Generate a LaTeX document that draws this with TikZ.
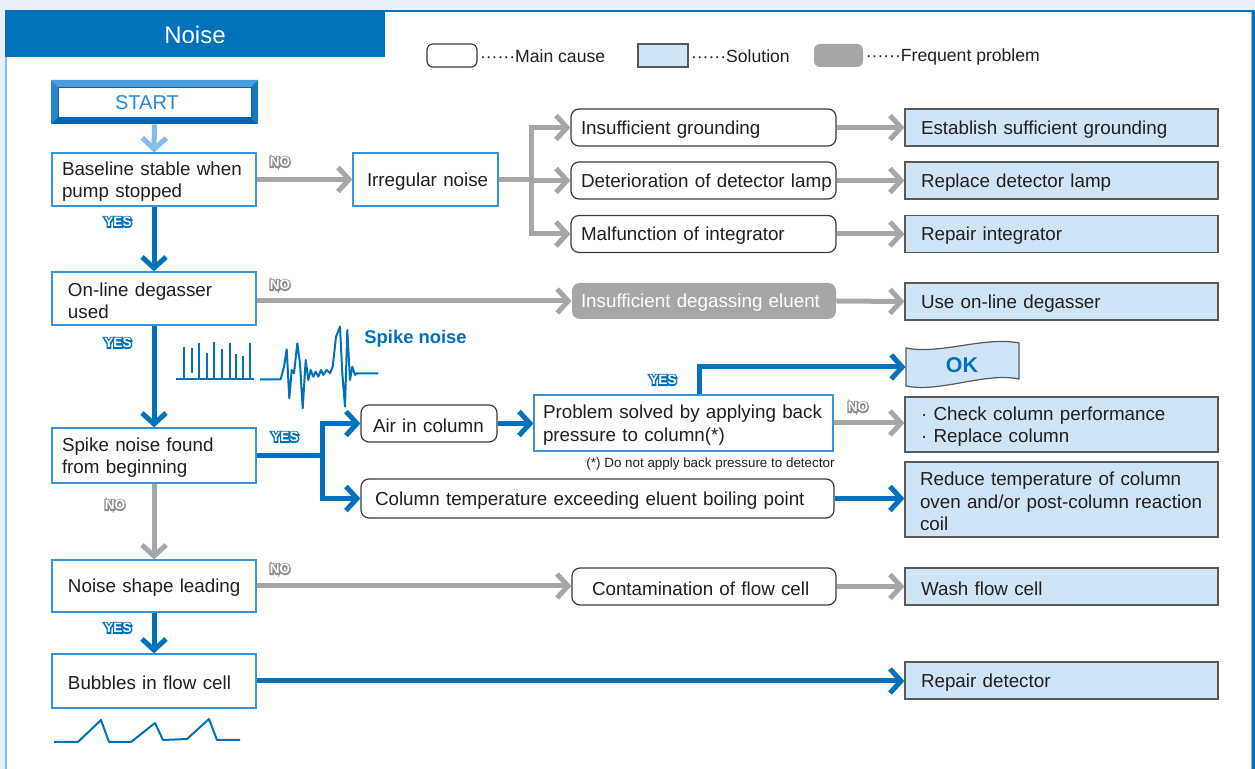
\documentclass[tikz,border=0pt]{standalone}
\usepackage{fontspec}
\setmainfont{Liberation Sans}
\newfontfamily\bdgO{Liberation Sans}[BoldFeatures={FakeBold=20}]
\usetikzlibrary{arrows.meta,calc}
\definecolor{blu}{HTML}{0072BC}
\definecolor{qbd}{HTML}{3A92D8}
\definecolor{cbd}{HTML}{3B3B3B}
\definecolor{sbd}{HTML}{595959}
\definecolor{solf}{HTML}{CFE4F4}
\definecolor{gry}{HTML}{A6A6A6}
\definecolor{gryd}{HTML}{8E8E8E}
\definecolor{bgc}{HTML}{E7F0F9}
\definecolor{txt}{HTML}{231F20}
\definecolor{lbl}{HTML}{86BDE8}
\definecolor{stc}{HTML}{2A88D8}
\definecolor{bvA}{HTML}{4A9CDB}
\definecolor{bvB}{HTML}{2A86CC}
\definecolor{bvC}{HTML}{0064B0}
\definecolor{bvD}{HTML}{1878C2}
\newcommand\T[1]{\raisebox{-1pt}[\height][\depth]{#1}}
\newcommand\bdgtxt[2]{\leavevmode\rlap{\bdgO\bfseries\textcolor{#1}{#2}}\textcolor{white}{#2}}
\begin{document}
\begin{tikzpicture}[x=0.5pt,y=-0.5pt,
 >={Straight Barb[length=5.5pt,width=12pt,sharp]},
 base/.style={font=\fontsize{9.4}{11.2}\selectfont, text=txt, inner ysep=1pt},
 qbox/.style={base, draw=qbd, line width=0.6pt, fill=white, align=left},
 cbox/.style={base, draw=cbd, line width=0.6pt, rounded corners=4pt, fill=white, align=left},
 sbox/.style={base, draw=sbd, line width=0.6pt, fill=solf, align=left},
 fbox/.style={base, fill=gry, rounded corners=4pt, text=white, align=left},
 bln/.style={draw=blu, line width=2.5pt},
 gln/.style={draw=gry, line width=2.5pt},
 lln/.style={draw=lbl, line width=2.5pt},
 bdg/.style={font=\bfseries\fontsize{6.8}{7}\selectfont, inner sep=0pt},
 wave/.style={draw=blu, line width=1pt, line join=round},
 dim/.code n args={3}{\pgfmathsetmacro\tw{#1-2*#3}\edef\tmp{\noexpand\tikzset{minimum width=#1pt,minimum height=#2pt,inner xsep=#3pt,text width=\tw pt}}\tmp}]
\useasboundingbox (0,0) rectangle (1255,769);
% frame
\fill[bgc] (0,0) rectangle (1255,769);
\fill[white] (6,11) rectangle (1252,769);
\fill[lbl] (5,11) rectangle (7,769);
\fill[lbl] (1250.5,11) rectangle (1252,769);
\fill[blu] (1252,10) rectangle (1255,769);
\fill[blu] (5,10) rectangle (1255,12.5);
\fill[blu] (5,10) rectangle (385,57);
\node[font=\fontsize{12}{14}\selectfont, text=white] (title) at (195,35) {Noise};
% legend
\node[cbox, minimum width=25pt, minimum height=11.5pt, rounded corners=3pt, inner sep=0pt] (lg1) at (452,55.5) {};
\node[base, anchor=west, inner xsep=0pt, font=\fontsize{8.8}{10}\selectfont] (lt1) at ([xshift=1pt,yshift=-0.5pt]lg1.east) {······Main cause};
\node[sbox, minimum width=25pt, minimum height=11.5pt, inner sep=0pt] (lg2) at (663,55.5) {};
\node[base, anchor=west, inner xsep=0pt, font=\fontsize{8.8}{10}\selectfont] (lt2) at ([xshift=1pt,yshift=-0.5pt]lg2.east) {······Solution};
\node[fbox, minimum width=24.5pt, minimum height=11.5pt, rounded corners=3pt, inner sep=0pt] (lg3) at (838.5,55.5) {};
\node[base, anchor=west, inner xsep=0pt, font=\fontsize{8.8}{10}\selectfont] (lt3) at ([xshift=1pt,yshift=-0.5pt]lg3.east) {······Frequent problem};
% START bevel
\fill[bvA] (51,80) -- (258,80) -- (251,87) -- (58,87) -- cycle;
\fill[bvB] (51,80) -- (58,87) -- (58,117) -- (51,124) -- cycle;
\fill[bvC] (51,124) -- (258,124) -- (251,117) -- (58,117) -- cycle;
\fill[bvD] (258,80) -- (258,124) -- (251,117) -- (251,87) -- cycle;
\draw[fill=white, draw=bvC, line width=0.4pt] (58,87) rectangle (251,117);
\node[minimum width=103.5pt, minimum height=22pt, inner sep=0pt] (start) at (154.5,102) {};
\node[base, font=\fontsize{10}{11}\selectfont, text=stc, inner sep=0pt] (startt) at (147,103) {START};
% decision boxes
\node[qbox,dim={102}{26.5}{5}] (bsl) at (154,179.5) {\T{Baseline stable when}\\\T{pump stopped}};
\node[qbox,dim={72.5}{26.5}{7}] (irr) at (425.5,179.5) {\T{Irregular noise}};
\node[qbox,dim={102}{26.5}{8}] (deg) at (154,298.5) {\T{On-line degasser}\\\T{used}};
\node[qbox,dim={102}{27.5}{5}] (spk) at (154,455.5) {\T{Spike noise found}\\\T{from beginning}};
\node[qbox,dim={149.5}{28}{4.5}] (sv) at (683.5,423) {\T{Problem solved by applying back}\\\T{pressure to column(*)}};
\node[qbox,dim={102}{26}{8}] (lead) at (154,586) {\T{Noise shape leading}};
\node[qbox,dim={102}{27}{8}] (bub) at (154,681) {\T{Bubbles in flow cell}};
% causes
\node[cbox,dim={132.5}{18.5}{5}] (c1) at (703.5,127.5) {\T{Insufficient grounding}};
\node[cbox,dim={132.5}{18.5}{5}] (c2) at (703.5,180.5) {\T{Deterioration of detector lamp}};
\node[cbox,dim={132.5}{18.5}{5}] (c3) at (703.5,234) {\T{Malfunction of integrator}};
\node[fbox,dim={132}{18}{4.5}] (fq) at (704,301) {\T{Insufficient degassing eluent}};
\node[cbox,dim={68}{18.5}{6}] (air) at (429,423.5) {\T{Air in column}};
\node[cbox,dim={236.5}{19.5}{7}] (ct) at (597.5,498.5) {\T{Column temperature exceeding eluent boiling point}};
\node[cbox,dim={132}{18.5}{10}] (cf) at (704,586.5) {\T{Contamination of flow cell}};
% solutions
\node[sbox,dim={156.5}{18.5}{8}] (s1) at (1061.5,127.5) {\T{Establish sufficient grounding}};
\node[sbox,dim={156.5}{18.5}{8}] (s2) at (1061.5,180.5) {\T{Replace detector lamp}};
\node[sbox,dim={156.5}{18.5}{8}] (s3) at (1061.5,234) {\T{Repair integrator}};
\node[sbox,dim={156.5}{18.5}{8}] (s4) at (1061.5,301.5) {\T{Use on-line degasser}};
\node[sbox,dim={156.5}{27.5}{8}] (s5) at (1061.5,424.5) {\T{· Check column performance}\\\T{· Replace column}};
\node[sbox,dim={156.5}{37.5}{7.5}] (s6) at (1061.5,499.5) {\T{Reduce temperature of column}\\\T{oven and/or post-column reaction}\\\T{coil}};
\node[sbox,dim={156.5}{18.5}{8}] (s7) at (1061.5,586.5) {\T{Wash flow cell}};
\node[sbox,dim={156.5}{18.5}{8}] (s8) at (1061.5,680.5) {\T{Repair detector}};
% OK flag
\draw[draw=sbd, fill=solf, line width=0.6pt] (906,348) .. controls (940,355) and (985,336) .. (1019,343) -- (1019,379) .. controls (985,372) and (940,393) .. (906,386) -- cycle;
\node[base, font=\bfseries\fontsize{10.7}{12}\selectfont, text=blu, minimum width=56pt, minimum height=19pt, inner sep=0pt] (ok) at (962,367) {\raisebox{2pt}{OK}};
% footnote and spike label
\node[base, font=\fontsize{6.7}{8}\selectfont] (fn) at (710.5,464) {(*) Do not apply back pressure to detector};
\node[base, font=\bfseries\fontsize{9.2}{11}\selectfont, text=blu, anchor=west, inner xsep=0pt] (spl) at (364,339) {Spike noise};
% badges
\node[bdg] (n1) at (280,162) {\bdgtxt{gryd}{NO}};
\node[bdg] (y1) at (118,222) {\bdgtxt{blu}{YES}};
\node[bdg] (n2) at (280,285) {\bdgtxt{gryd}{NO}};
\node[bdg] (y2) at (118,343) {\bdgtxt{blu}{YES}};
\node[bdg] (y3) at (285,437) {\bdgtxt{blu}{YES}};
\node[bdg] (y4) at (663,380) {\bdgtxt{blu}{YES}};
\node[bdg] (n3) at (858,407) {\bdgtxt{gryd}{NO}};
\node[bdg] (n4) at (115,505) {\bdgtxt{gryd}{NO}};
\node[bdg] (n5) at (280,569) {\bdgtxt{gryd}{NO}};
\node[bdg] (y5) at (118,628) {\bdgtxt{blu}{YES}};
% connectors
\draw[lln,->] (start.south) -- (bsl.north);
\draw[gln,->] (bsl.east) -- (irr.west);
\draw[gln] (irr.east) -- ++(33,0) coordinate (j1);
\draw[gln,->] (j1) |- (c1.west);
\draw[gln,->] (j1) |- (c3.west);
\draw[gln,->] (j1) -- (j1 |- c2.west) -- (c2.west);
\draw[gln,->] (c1.east) -- (s1.west);
\draw[gln,->] (c2.east) -- (s2.west);
\draw[gln,->] (c3.east) -- (s3.west);
\draw[bln,->] (bsl.south) -- (deg.north);
\draw[gln,->] (deg.east |- fq.west) -- (fq.west);
\draw[gln,->] (fq.east) -- (s4.west);
\draw[bln,->] (deg.south) -- (spk.north);
\draw[bln] (spk.east) -- ++(66,0) coordinate (j2);
\draw[bln,->] (j2) |- (air.west);
\draw[bln,->] (j2) |- (ct.west);
\draw[bln,->] (air.east) -- (air.east -| sv.west);
\draw[bln,->] ([xshift=7.75pt]sv.north) |- (ok.west);
\draw[gln,->] (sv.east) -- (sv.east -| s5.west);
\draw[bln,->] (ct.east) -- (ct.east -| s6.west);
\draw[gln,->] (spk.south) -- (lead.north);
\draw[gln,->] (lead.east) -- (lead.east -| cf.west);
\draw[gln,->] (cf.east) -- (s7.west);
\draw[bln,->] (lead.south) -- (bub.north);
\draw[bln,->] (bub.east) -- (bub.east -| s8.west);
% spike drawings
\draw[wave] (176,379) -- (254,379);
\foreach \x/\t in {184/347,199/343,207/353,214/342,222/349,230/343,236/354,243/356,250/343} \draw[wave] (\x,379) -- (\x,\t);
\draw[wave] (192,373) -- (192,348);
\draw[wave] (260,379.3) -- (280.7,379.3) -- (284,366.7) -- (286.7,349.3) -- (289.3,398.3) -- (291.7,370) -- (294,373.3) -- (297.3,343.3) -- (300,363.3) -- (302.7,408.3) -- (305.7,360) -- (308.3,380) -- (310.7,370) -- (313.3,376.7) -- (315.7,371.7) -- (318.3,376.7) -- (321,370) -- (323.3,375) -- (326.7,370) -- (330,373.3) -- (332.7,366.7) -- (336,336.7) -- (340,326.7) -- (342.3,373.3) -- (345,406.7) -- (347.3,330) -- (350,380) -- (352.3,366.7) -- (355,375) -- (356.7,373.3) -- (378.3,373.3);
\draw[wave] (54,742) -- (78,742) -- (101,720) -- (109,742) -- (131,742) -- (155,723) -- (163,740) -- (187,739) -- (209,719) -- (217,740) -- (240,740);
\end{tikzpicture}
\end{document}
